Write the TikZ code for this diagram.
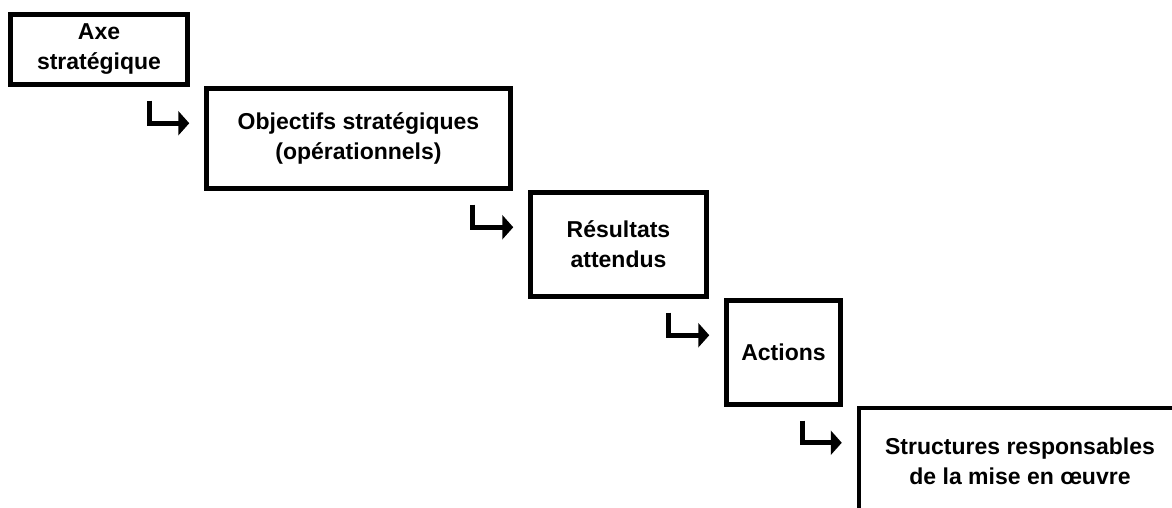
\documentclass[tikz,border=0pt]{standalone}
\usepackage{fontspec}
\setmainfont{Liberation Sans}
\usepackage{tikz}
\usetikzlibrary{arrows.meta}
\tikzset{
  etape/.style={draw=black, line width=4.5pt, align=center, inner sep=0pt,
    font=\fontsize{23}{30}\selectfont\bfseries},
  bentarrow/.style={line width=5pt, -{Triangle[length=11pt,width=24pt]}}
}

\begin{document}
\begin{tikzpicture}[x=1pt,y=1pt]
  \useasboundingbox (0,0) rectangle (1172,508);
  \clip (0,0) rectangle (1172,508);
  \node[etape, minimum width=177pt, minimum height=70pt] (axe) at (99,458.5) {Axe\\stratégique};
  \node[etape, minimum width=304pt, minimum height=100pt] (objectifs) at (358.5,369.5) {Objectifs stratégiques\\(opérationnels)};
  \node[etape, minimum width=176pt, minimum height=104pt] (resultats) at (618.5,263.5) {Résultats\\attendus};
  \node[etape, minimum width=114pt, minimum height=104pt] (actions) at (783.5,155.5) {Actions};
  \node[etape, minimum width=322pt, minimum height=106pt] (structures) at (1020,47) {Structures responsables\\de la mise en œuvre};
  \foreach \a/\b in {axe/objectifs, objectifs/resultats, resultats/actions, actions/structures}
    \draw[bentarrow] ([xshift=-40pt,yshift=-14pt]\a.south east) |- ([xshift=-15pt,yshift=-37pt]\b.north west);
\end{tikzpicture}
\end{document}
